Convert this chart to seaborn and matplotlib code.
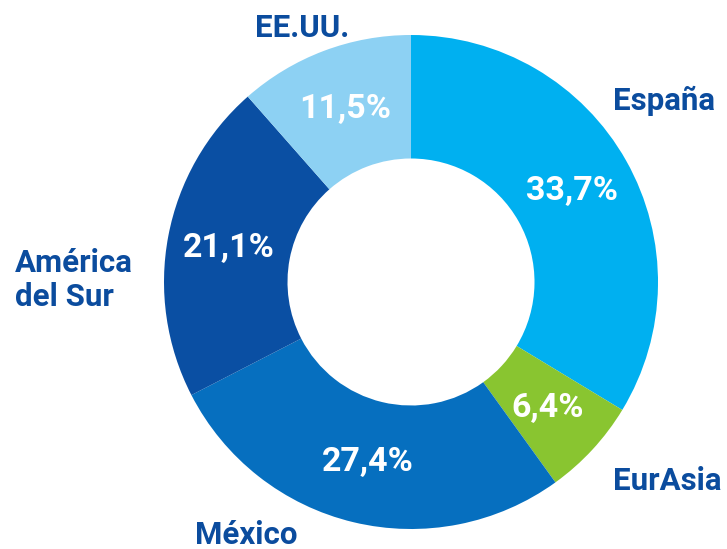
import matplotlib
matplotlib.use("Agg")
import matplotlib.pyplot as plt
import seaborn as sns

# ---- data ----
regions = ["España", "EurAsia", "México", "América\ndel Sur", "EE.UU."]
shares = [33.7, 6.4, 27.4, 21.1, 11.5]
share_labels = ["33,7%", "6,4%", "27,4%", "21,1%", "11,5%"]
colors = ["#00B0F0", "#89C530", "#066FBF", "#0A4FA3", "#8DD1F3"]

# label anchor positions (pixels from top-left)
label_pos = [(613, 101), (613, 481), (195, 535), (15, 280), (255, 28)]

sns.set_theme(style="white")
plt.rcParams["font.family"] = ["Roboto", "DejaVu Sans"]

W, H = 727, 549
fig = plt.figure(figsize=(W / 100, H / 100), dpi=100)
ax = fig.add_axes([0, 0, 1, 1])

cx, cy, R = 411, H - 282, 247
it = iter(share_labels)
wedges, texts, autotexts = ax.pie(
    shares, colors=colors, startangle=90, counterclock=False,
    center=(cx, cy), radius=R, frame=True,
    wedgeprops=dict(width=R * 0.5, linewidth=0),
    autopct=lambda p: next(it), pctdistance=0.75,
)
ax.set_xlim(0, W)
ax.set_ylim(0, H)
ax.set_aspect("equal")
ax.axis("off")
for t in autotexts:
    t.set_color("white")
    t.set_fontsize(24.5)
    t.set_fontweight("bold")

for name, (x, y) in zip(regions, label_pos):
    ax.text(x, H - y, name, ha="left", va="center", color="#0B4C9E",
            fontsize=22.5, fontweight="bold", linespacing=1.2)

fig.savefig("out.png", dpi=100)
